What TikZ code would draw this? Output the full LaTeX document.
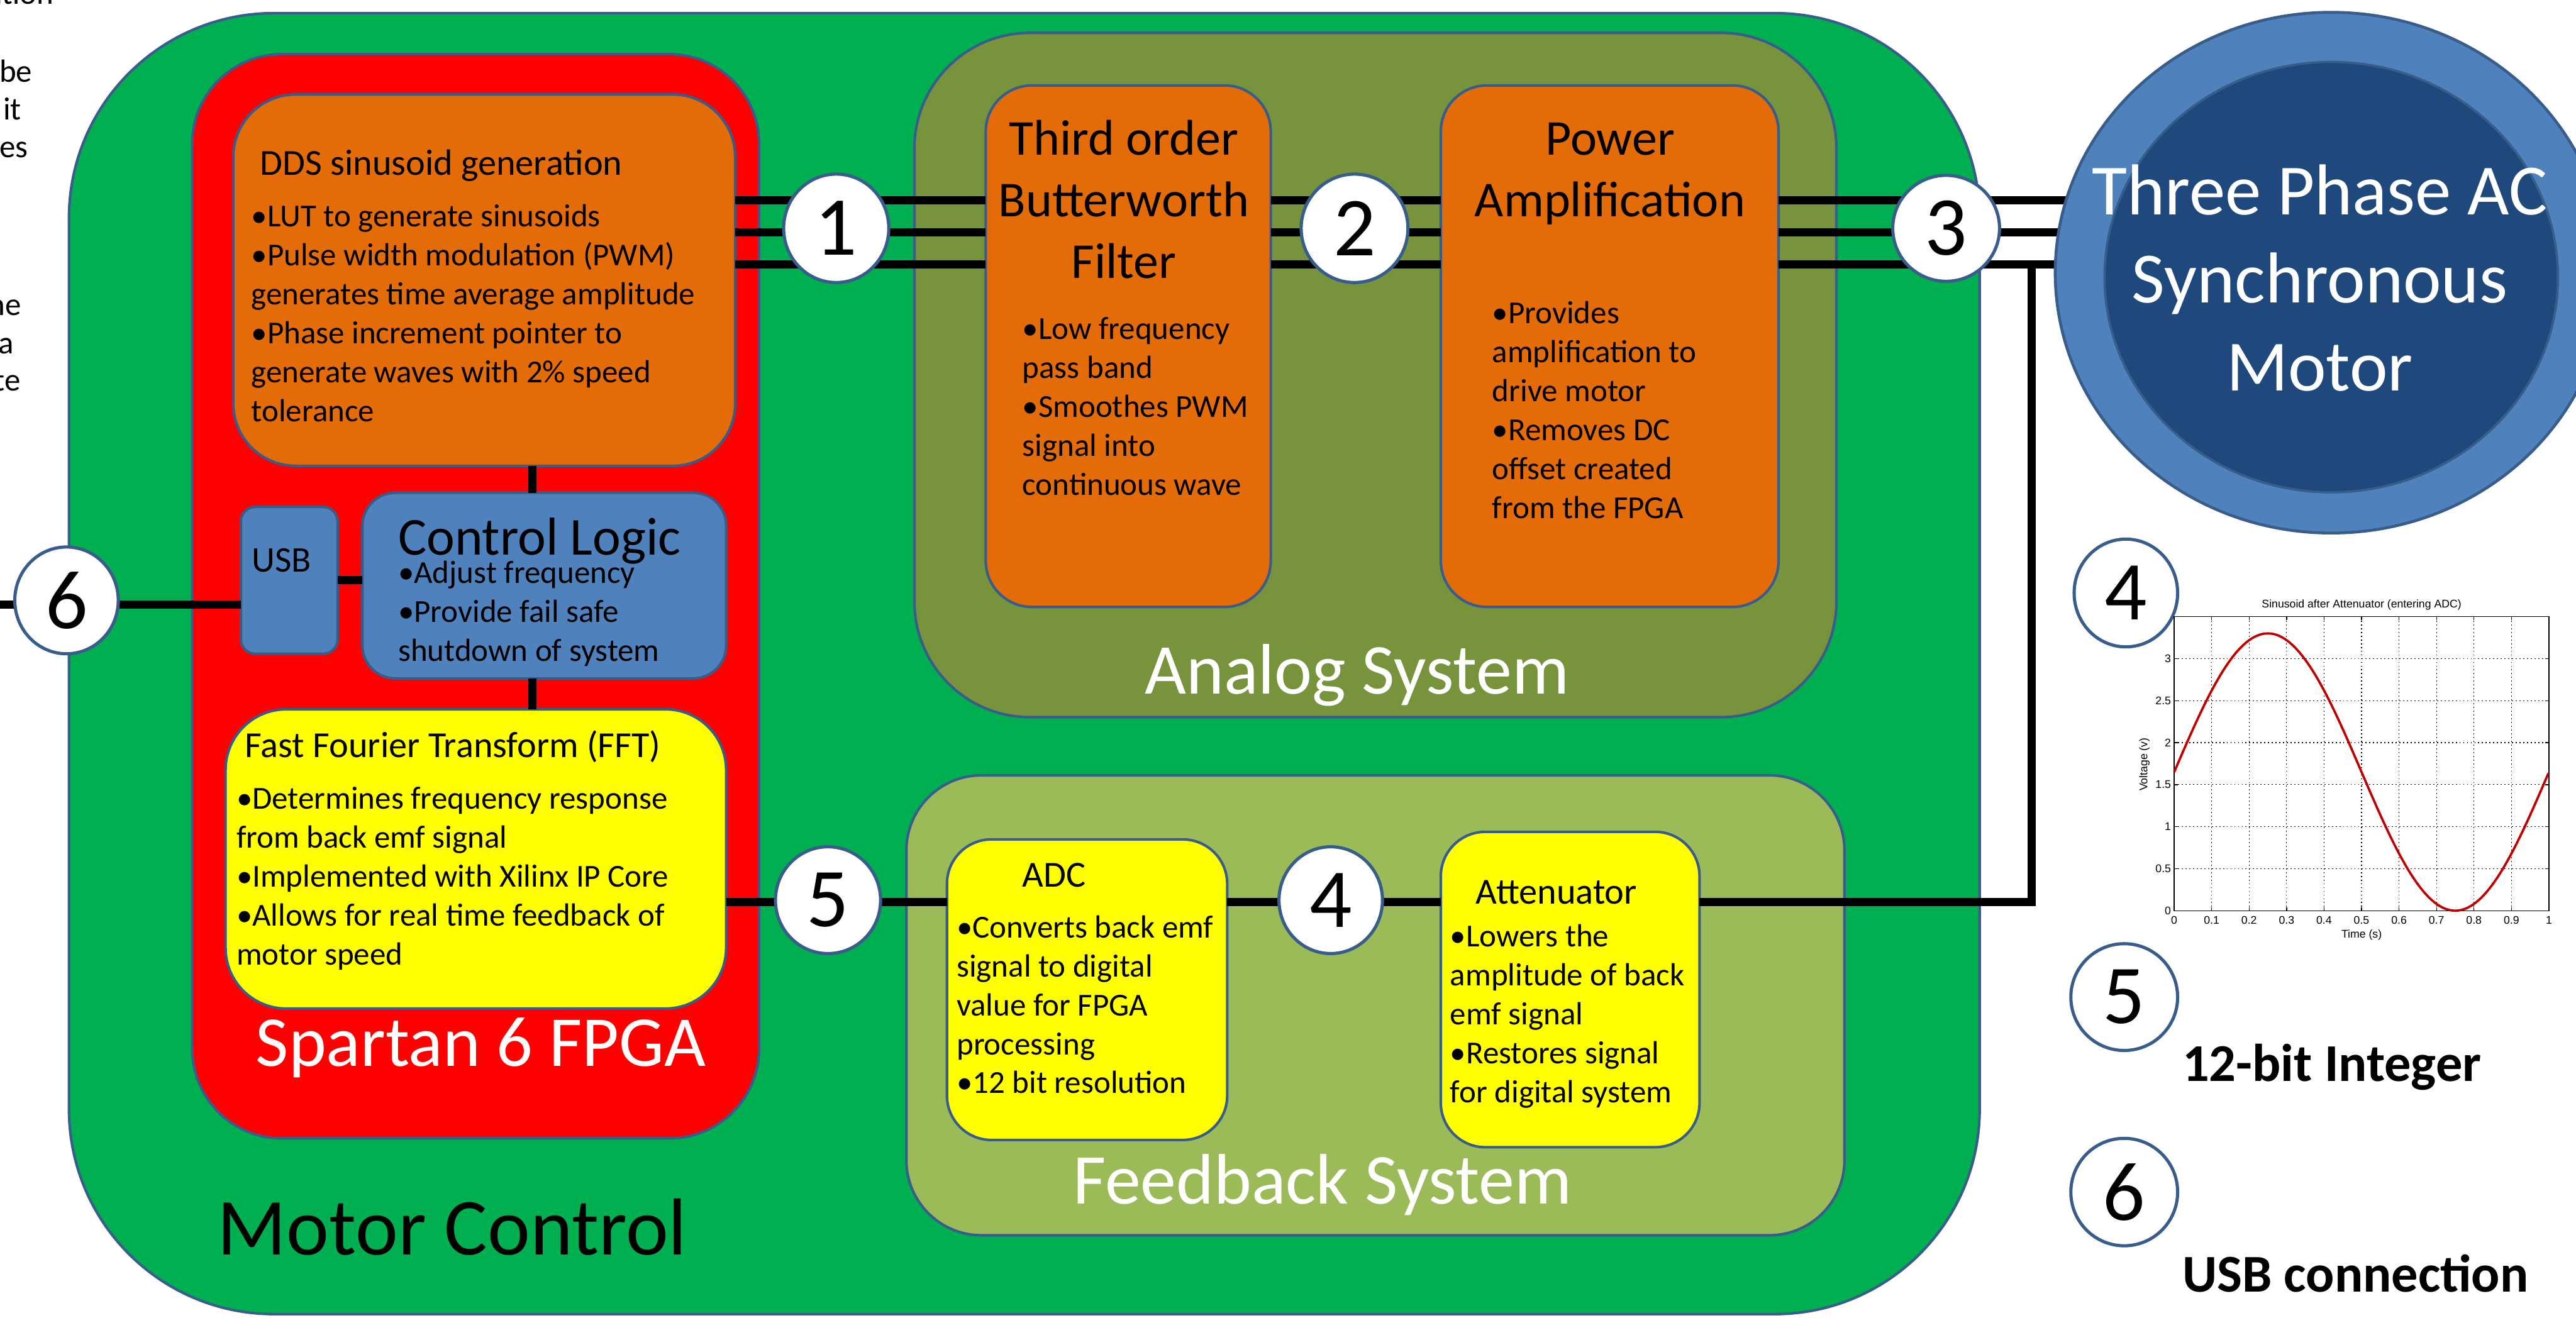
\documentclass[tikz,border=0pt]{standalone}
\usepackage{fontspec}
\setmainfont{Carlito}
\newfontfamily\plotface{Liberation Sans}
\newcommand*{\bodyfont}{\fontsize{11.1}{13.5}\selectfont}
\newcommand*{\headfont}{\fontsize{12.7}{14}\selectfont}
\newcommand*{\usbfont}{\fontsize{12.5}{14}\selectfont}
\newcommand*{\blockfont}{\fontsize{17.4}{21.3}\selectfont}
\newcommand*{\logicfont}{\fontsize{18.5}{21}\selectfont}
\newcommand*{\areafont}{\fontsize{24.8}{30}\selectfont}
\newcommand*{\motorfont}{\fontsize{25}{30.5}\selectfont}
\newcommand*{\mcfont}{\fontsize{28}{32}\selectfont}
\newcommand*{\numfont}{\fontsize{29}{32}\selectfont}
\newcommand*{\keyfont}{\fontsize{18.4}{22}\selectfont\bfseries}
\newcommand*{\plotfont}{\plotface\fontsize{3.85}{4.5}\selectfont}
\newcommand*{\pxu}{0.2mm}
\newcommand*{\leftrows}[1]{\begin{tabular}[t]{@{}l@{}}#1\end{tabular}}
\newcommand*{\midrows}[1]{\begin{tabular}[t]{@{}c@{}}#1\end{tabular}}
\definecolor{mcgreen}{HTML}{00B050}
\definecolor{fpgared}{HTML}{FF0000}
\definecolor{blockorange}{HTML}{E36C09}
\definecolor{analogolive}{HTML}{77933C}
\definecolor{fbolive}{HTML}{9BBB59}
\definecolor{blockyellow}{HTML}{FFFF00}
\definecolor{ctrlblue}{HTML}{4F81BD}
\definecolor{motordark}{HTML}{1F497D}
\definecolor{edge}{HTML}{385D8A}
\definecolor{curve}{HTML}{C00000}
\usetikzlibrary{fit}
\usetikzlibrary{shapes.geometric}
\tikzstyle{sheet}=[x=0.2mm, y=-0.2mm]
\tikzstyle{panel}=[draw=edge, line width=0.9pt, inner sep=0pt, outer sep=0pt]
\tikzstyle{wire}=[black, line width=2.85pt]
\tikzstyle{badge}=[ellipse, draw=edge, line width=1.1pt, fill=white, inner sep=0pt, font=\numfont]
\tikzstyle{note}=[anchor=base west, inner sep=0pt, font=\bodyfont]
\tikzstyle{plottext}=[inner sep=0pt, font=\plotfont]
\tikzstyle{gridline}=[black, line width=0.25pt, dash pattern=on 0.4pt off 0.9pt]

\begin{document}
\begin{tikzpicture}[sheet]
    \useasboundingbox (0,0) rectangle (1568,802);
    % blocks
    \node [panel, fill=mcgreen, rounded corners=71pt, fit={(42,8) (1205,800)}] (mc) {};
    \node [panel, fill=fpgared, rounded corners=31pt, fit={(117,33) (462,693)}] (fpga) {};
    \node [panel, fill=blockorange, rounded corners=21.6pt, fit={(142,57.5) (447.5,283.6)}] (dds) {};
    \node [panel, fill=ctrlblue, rounded corners=5pt, fit={(146.6,308.6) (205.5,398)}] (usb) {};
    \node [panel, fill=ctrlblue, rounded corners=11.4pt, fit={(220.6,300) (442,413)}] (ctrl) {};
    \node [panel, fill=blockyellow, rounded corners=21pt, fit={(137.3,431.8) (442,614)}] (fft) {};
    \node [panel, fill=analogolive, rounded corners=40pt, fit={(556.6,20) (1117.8,436.6)}] (analog) {};
    \node [panel, fill=blockorange, rounded corners=16pt, fit={(600,52) (773.5,369.5)}] (filter) {};
    \node [panel, fill=blockorange, rounded corners=16pt, fit={(877,52) (1082.6,369.5)}] (power) {};
    \node [panel, fill=fbolive, rounded corners=26pt, fit={(551.7,472) (1122.7,752)}] (feedback) {};
    \node [panel, fill=blockyellow, rounded corners=15.4pt, fit={(576.4,511) (747,694)}] (adc) {};
    \node [panel, fill=blockyellow, rounded corners=15.4pt, fit={(877,506.4) (1034.5,698.4)}] (atten) {};

    % texts
    \node [note, font=\headfont] (ddshead) at (158,106.6) {DDS sinusoid generation};
    \node [note] (ddsnote) at (152.7,138) {\leftrows{•LUT to generate sinusoids\\•Pulse width modulation (PWM)\\generates time average amplitude\\•Phase increment pointer to\\generate waves with 2\% speed\\tolerance}};
    \node [note, font=\usbfont] (usbtext) at (153,348) {USB};
    \node [note, font=\logicfont] (ctrlhead) at (242,338) {Control Logic};
    \node [note] (ctrlnote) at (242,355) {\leftrows{•Adjust frequency\\•Provide fail safe\\shutdown of system}};
    \node [note, font=\headfont] (ffthead) at (148.8,461) {Fast Fourier Transform (FFT)};
    \node [note] (fftnote) at (143.6,492.4) {\leftrows{•Determines frequency response\\from back emf signal\\•Implemented with Xilinx IP Core\\•Allows for real time feedback of\\motor speed}};
    \node [anchor=base, inner sep=0pt, font=\blockfont] (filterhead) at (684,94.5) {\midrows{Third order\\Butterworth\\Filter}};
    \node [note] (filternote) at (622,206.6) {\leftrows{•Low frequency\\pass band\\•Smoothes PWM\\signal into\\continuous wave}};
    \node [anchor=base, inner sep=0pt, font=\blockfont] (powerhead) at (980,94.5) {\midrows{Power\\Amplification}};
    \node [note] (powernote) at (908,197) {\leftrows{•Provides\\amplification to\\drive motor\\•Removes DC\\offset created\\from the FPGA}};
    \node [note, font=\headfont] (adchead) at (622,540) {ADC};
    \node [note] (adcnote) at (582,570.8) {\leftrows{•Converts back emf\\signal to digital\\value for FPGA\\processing\\•12 bit resolution}};
    \node [note, font=\headfont] (attenhead) at (898,550.3) {Attenuator};
    \node [note] (attennote) at (882.4,576.3) {\leftrows{•Lowers the\\amplitude of back\\emf signal\\•Restores signal\\for digital system}};
    \node [anchor=base, inner sep=0pt, font=\areafont, white] (fpgalabel) at (292.7,649.2) {Spartan 6 FPGA};
    \node [anchor=base, inner sep=0pt, font=\areafont, white] (analoglabel) at (826,422.5) {Analog System};
    \node [anchor=base, inner sep=0pt, font=\areafont, white] (feedbacklabel) at (805,733) {Feedback System};
    \node [anchor=base west, inner sep=0pt, font=\mcfont] (mclabel) at (132,764) {Motor Control};

    % wires
    \coordinate (ph1) at (0,122);
    \coordinate (ph2) at (0,141.5);
    \coordinate (ph3) at (0,161);
    \coordinate (fb) at (0,549);
    \coordinate (spine) at (324,0);
    \coordinate (tap) at (1236.5,0);
    \coordinate (usbrow) at (0,353);
    \coordinate (port) at (0,368);
    \coordinate (motorc) at (1419,166);
    \foreach \ph in {ph1,ph2,ph3} {
        \draw [wire] (dds.east |- \ph) -- (filter.west |- \ph);
        \draw [wire] (filter.east |- \ph) -- (power.west |- \ph);
        \draw [wire] (power.east |- \ph) -- (motorc |- \ph);
    }
    \draw [wire] (dds.south -| spine) -- (ctrl.north -| spine);
    \draw [wire] (ctrl.south -| spine) -- (fft.north -| spine);
    \draw [wire] (usb.east |- usbrow) -- (ctrl.west |- usbrow);
    \draw [wire] (port) -- (usb.west |- port);
    \draw [wire] (fft.east |- fb) -- (adc.west |- fb);
    \draw [wire] (adc.east |- fb) -- (atten.west |- fb);
    \draw [wire] (atten.east |- fb) -- (tap |- fb) -- (tap |- ph3);

    % numbered points
    \node [badge, minimum width=64*\pxu, minimum height=66*\pxu] (n1) at (509,139) {1};
    \node [badge, minimum width=65*\pxu, minimum height=66*\pxu] (n2) at (824.5,139) {2};
    \node [badge, minimum width=65*\pxu, minimum height=64.5*\pxu] (n3) at (1184.6,139) {3};
    \node [badge, minimum width=63*\pxu, minimum height=65*\pxu] (n4) at (810,548) {4};
    \node [badge, minimum width=64*\pxu, minimum height=65*\pxu] (n5) at (504,548) {5};
    \node [badge, minimum width=63*\pxu, minimum height=65*\pxu] (n6) at (40.5,365.5) {6};

    % motor
    \node [ellipse, draw=edge, line width=1pt, fill=ctrlblue, minimum width=336*\pxu, minimum height=317*\pxu] (motor) at (motorc) {};
    \node [ellipse, draw=edge, line width=0.8pt, fill=motordark, minimum width=276*\pxu, minimum height=262*\pxu] (rotor) at (1419,168.7) {};
    \node [anchor=base, inner sep=0pt, font=\motorfont, white] (motortext) at (1412,130.8) {\midrows{Three Phase AC\\Synchronous\\Motor}};

    % legend
    \node [badge, minimum width=63*\pxu, minimum height=65.6*\pxu] (key4) at (1294,361) {4};
    \node [badge, minimum width=65*\pxu, minimum height=65*\pxu] (key5) at (1293,607) {5};
    \node [badge, minimum width=65*\pxu, minimum height=65.4*\pxu] (key6) at (1293,725.7) {6};
    \node [anchor=base west, inner sep=0pt, font=\keyfont] (key5text) at (1328,658.4) {12-bit Integer};
    \node [anchor=base west, inner sep=0pt, font=\keyfont] (key6text) at (1328,786.4) {USB connection};

    % plot for point 4
    \node [plottext, anchor=base] (plottitle) at (1437.5,369.9) {Sinusoid after Attenuator (entering ADC)};
    \node [plottext, anchor=base] (xlabel) at (1437.5,571) {Time (s)};
    \node [plottext, rotate=90] (ylabel) at (1305.3,465.4) {Voltage (v)};
    \begin{scope}[shift={(1323.4,554.4)}, x=45.62mm, y=10.23mm]
        \foreach \i in {1,...,9}
            \draw [gridline] (\i/10,0) -- (\i/10,3.5);
        \foreach \j in {1,...,6}
            \draw [gridline] (0,\j/2) -- (1,\j/2);
        \foreach \i in {0,...,10} {
            \draw [line width=0.3pt] (\i/10,0) -- ++(0,1.2pt);
            \draw [line width=0.3pt] (\i/10,3.5) -- ++(0,-1.2pt);
        }
        \foreach \j in {0,...,6} {
            \draw [line width=0.3pt] (0,\j/2) -- ++(1.2pt,0);
            \draw [line width=0.3pt] (1,\j/2) -- ++(-1.2pt,0);
        }
        \draw [line width=0.3pt] (0,0) rectangle (1,3.5);
        \draw [curve, line width=0.8pt] plot [domain=0:1, samples=120, smooth] (\x,{1.65+1.65*sin(360*\x)});
        \foreach \lab [count=\k from 0] in {0,0.1,0.2,0.3,0.4,0.5,0.6,0.7,0.8,0.9,1}
            \node [plottext, anchor=base] (xt\k) at (\k/10,-0.16) {\lab};
        \foreach \lab [count=\k from 0] in {0,0.5,1,1.5,2,2.5,3}
            \node [plottext, anchor=east] (yt\k) at ([xshift=-0.9pt]0,\k/2) {\lab};
    \end{scope}

    % text cut off at the left edge
    \foreach \fx/\fy/\ft [count=\k] in {33/2.5/ation, 20/50/be, 13.4/73/it, 17.5/96/es, 13.4/192/ne, 8.7/215.4/a, 12.8/238/te}
        \node [anchor=base east, inner sep=0pt, font=\bodyfont] (cut\k) at (\fx,\fy) {\ft};
\end{tikzpicture}
\end{document}
